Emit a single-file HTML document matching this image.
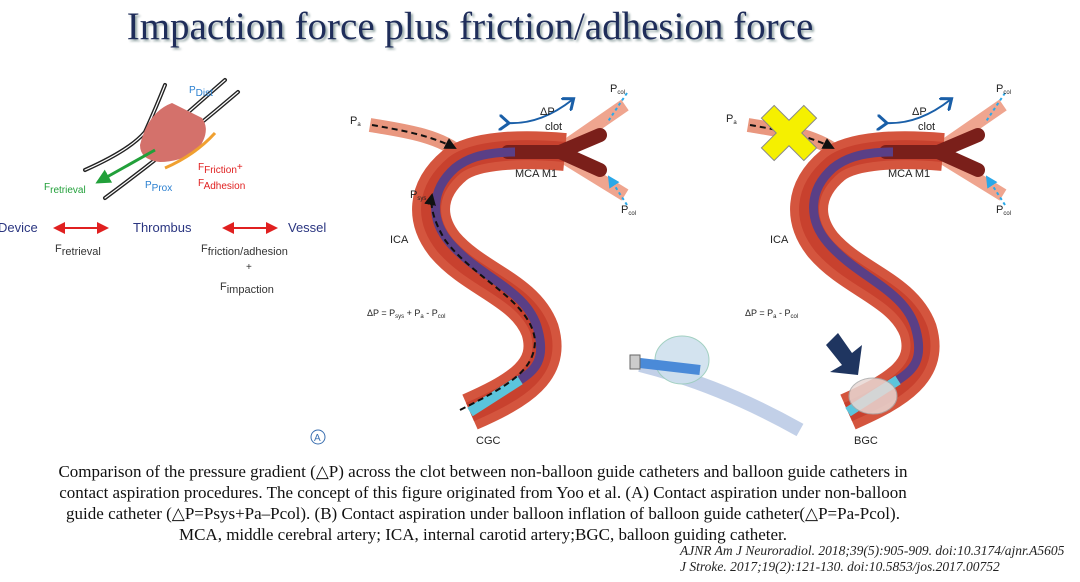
<!DOCTYPE html>
<html><head><meta charset="utf-8"><style>
body{margin:0;width:1080px;height:582px;background:#fff;overflow:hidden;position:relative;font-family:"Liberation Sans",sans-serif}
h1{position:absolute;margin:0;left:0;width:940px;text-align:center;top:4px;font:39px "Liberation Serif",serif;color:#1f2d5a;text-shadow:2px 2px 2px #9aa}
.cap{position:absolute;left:0;width:966px;text-align:center;font:17px "Liberation Serif",serif;color:#111;line-height:21px;top:461px}
.cit{position:absolute;left:680px;font:italic 13.5px "Liberation Serif",serif;color:#222;line-height:16px;top:543px}
</style></head><body>
<h1>Impaction force plus friction/adhesion force</h1>
<svg width="1080" height="582" style="position:absolute;left:0;top:0">
<defs>
<marker id="ar" markerWidth="6" markerHeight="6" refX="5" refY="3" orient="auto"><path d="M0,0L6,3L0,6z" fill="#e02020"/></marker>
<marker id="al" markerWidth="6" markerHeight="6" refX="1" refY="3" orient="auto"><path d="M6,0L0,3L6,6z" fill="#e02020"/></marker>
<marker id="bk" markerWidth="6" markerHeight="6" refX="5" refY="3" orient="auto"><path d="M0,0L6,3L0,6z" fill="#111"/></marker>
<marker id="gr" markerWidth="5" markerHeight="5" refX="4" refY="2.5" orient="auto"><path d="M0,0L5,2.5L0,5z" fill="#22a03a"/></marker>
<marker id="cy" markerWidth="6" markerHeight="6" refX="5" refY="3" orient="auto"><path d="M0,0L6,3L0,6z" fill="#2aa8e8"/></marker>
<marker id="bl" markerWidth="8" markerHeight="8" refX="4" refY="4" orient="auto"><path d="M0,0L5,4L0,8" fill="none" stroke="#1a5fa8" stroke-width="1.5"/></marker>
<g id="ves">
<path d="M370,125 C400,130 440,135 462,155" stroke="#e9977f" stroke-width="14" fill="none"/>
<path d="M560,150 L625,105 M560,155 L625,195" stroke="#efa58f" stroke-width="13" fill="none"/>
<path d="M565,152 C520,148 475,150 455,165 C425,190 425,220 445,245 C475,280 525,290 540,330 C552,370 520,390 470,412" stroke="#d4553e" stroke-width="38" fill="none"/>
<path d="M565,152 C520,148 475,150 455,165 C425,190 425,220 445,245 C475,280 525,290 540,330 C552,370 520,390 470,412" stroke="#c8412e" stroke-width="20" fill="none"/>
<path d="M508,152 L560,152 L600,135 M560,152 L600,170" stroke="#7a1f1a" stroke-width="14" fill="none" stroke-linecap="round"/>
<path d="M515,152 C480,152 465,160 455,168 C430,190 430,220 450,243 C480,278 528,290 538,330 C546,360 535,370 520,380" stroke="#5a3f86" stroke-width="9" fill="none"/>
</g>
</defs>
<g fill="none" stroke-linecap="round">
<path d="M85,170 Q130,150 145,132 Q155,110 165,85 M185,115 L225,80 M105,198 Q170,150 238,92" stroke="#222" stroke-width="4"/>
<path d="M85,170 Q130,150 145,132 Q155,110 165,85 M185,115 L225,80 M105,198 Q170,150 238,92" stroke="#fff" stroke-width="1.2"/>
</g>
<path d="M140,145 Q148,112 172,103 Q186,110 202,118 Q212,132 196,152 Q178,162 160,162 Q140,160 140,145z" fill="#d4716b"/>
<path d="M155,150 L98,182" stroke="#22a03a" stroke-width="3" marker-end="url(#gr)"/>
<path d="M165,168 Q195,155 215,133" stroke="#f0a030" stroke-width="3" fill="none"/>
<text x="189" y="93" font-size="10" fill="#2a7fd0">P<tspan dy="3">Dist</tspan></text>
<text x="145" y="188" font-size="10" fill="#2a7fd0">P<tspan dy="3">Prox</tspan></text>
<text x="44" y="190" font-size="10" fill="#22a03a">F<tspan dy="3">retrieval</tspan></text>
<text x="198" y="170" font-size="10" fill="#e02020">F<tspan dy="3">Friction</tspan><tspan dy="-3">+</tspan></text>
<text x="198" y="186" font-size="10" fill="#e02020">F<tspan dy="3">Adhesion</tspan></text>
<text x="-2" y="232" font-size="13" fill="#2a3580">Device</text>
<text x="133" y="232" font-size="13" fill="#2a3580">Thrombus</text>
<text x="288" y="232" font-size="13" fill="#2a3580">Vessel</text>
<line x1="55" y1="228" x2="107" y2="228" stroke="#e02020" stroke-width="2" marker-end="url(#ar)" marker-start="url(#al)"/>
<line x1="224" y1="228" x2="276" y2="228" stroke="#e02020" stroke-width="2" marker-end="url(#ar)" marker-start="url(#al)"/>
<text x="55" y="252" font-size="11" fill="#333">F<tspan dy="3">retrieval</tspan></text>
<text x="201" y="252" font-size="11" fill="#333">F<tspan dy="3">friction/adhesion</tspan></text>
<text x="246" y="270" font-size="10" fill="#333">+</text>
<text x="220" y="290" font-size="11" fill="#333">F<tspan dy="3">impaction</tspan></text>
<use href="#ves"/>
<path d="M520,380 L470,412" stroke="#5bc4dc" stroke-width="10"/>
<path d="M372,125 C400,130 430,135 455,148" stroke="#111" stroke-width="2" stroke-dasharray="6,4" fill="none" marker-end="url(#bk)"/>
<path d="M460,410 C510,385 535,370 535,340 C530,300 475,280 445,240 C433,220 430,205 432,195" stroke="#111" stroke-width="2" stroke-dasharray="6,4" fill="none" marker-end="url(#bk)"/>
<path d="M507,123 Q540,125 572,100" stroke="#1a5fa8" stroke-width="2" fill="none" marker-end="url(#bl)" marker-start="url(#bl)"/>
<path d="M627,93 L607,123 M627,205 L609,177" stroke="#2aa8e8" stroke-width="2" stroke-dasharray="3,3" marker-end="url(#cy)"/>
<text x="350" y="124" font-size="11" fill="#222">P<tspan font-size="6" dy="2">a</tspan></text>
<text x="540" y="115" font-size="11" fill="#222">ΔP</text>
<text x="545" y="130" font-size="11" fill="#222">clot</text>
<text x="610" y="92" font-size="11" fill="#222">P<tspan font-size="6" dy="2">col</tspan></text>
<text x="621" y="213" font-size="11" fill="#222">P<tspan font-size="6" dy="2">col</tspan></text>
<text x="515" y="177" font-size="11" fill="#222">MCA M1</text>
<text x="410" y="198" font-size="11" fill="#222">P<tspan font-size="6" dy="2">sys</tspan></text>
<text x="390" y="243" font-size="11" fill="#222">ICA</text>
<text x="367" y="316" font-size="9" fill="#222">ΔP = P<tspan font-size="6" dy="2">sys</tspan><tspan dy="-2"> + P</tspan><tspan font-size="6" dy="2">a</tspan><tspan dy="-2"> - P</tspan><tspan font-size="6" dy="2">col</tspan></text>
<text x="476" y="444" font-size="11" fill="#222">CGC</text>
<circle cx="318" cy="437" r="7" fill="none" stroke="#3a6fb0"/><text x="314" y="441" font-size="10" fill="#3a6fb0">A</text>
<g transform="translate(378,0)"><use href="#ves"/>
<path d="M520,380 L470,412" stroke="#5bc4dc" stroke-width="10"/>
<ellipse cx="495" cy="396" rx="24" ry="18" fill="#e8d8d4" opacity=".85" stroke="#aaa"/>
<path d="M372,125 C400,130 430,135 455,148" stroke="#111" stroke-width="2" stroke-dasharray="6,4" fill="none" marker-end="url(#bk)"/>
<path d="M507,123 Q540,125 572,100" stroke="#1a5fa8" stroke-width="2" fill="none" marker-end="url(#bl)" marker-start="url(#bl)"/>
<path d="M627,93 L607,123 M627,205 L609,177" stroke="#2aa8e8" stroke-width="2" stroke-dasharray="3,3" marker-end="url(#cy)"/>
<text x="348" y="122" font-size="11" fill="#222">P<tspan font-size="6" dy="2">a</tspan></text>
<text x="534" y="115" font-size="11" fill="#222">ΔP</text>
<text x="540" y="130" font-size="11" fill="#222">clot</text>
<text x="618" y="92" font-size="11" fill="#222">P<tspan font-size="6" dy="2">col</tspan></text>
<text x="618" y="213" font-size="11" fill="#222">P<tspan font-size="6" dy="2">col</tspan></text>
<text x="510" y="177" font-size="11" fill="#222">MCA M1</text>
<text x="392" y="243" font-size="11" fill="#222">ICA</text>
<text x="367" y="316" font-size="9" fill="#222">ΔP = P<tspan font-size="6" dy="2">a</tspan><tspan dy="-2"> - P</tspan><tspan font-size="6" dy="2">col</tspan></text>
<text x="476" y="444" font-size="11" fill="#222">BGC</text>
</g>
<g transform="translate(789,133) rotate(45)" fill="#f5f000" stroke="#888" stroke-width="1">
<path d="M-9,-30 H9 V-9 H30 V9 H9 V30 H-9 V9 H-30 V-9 H-9z"/>
</g>
<path d="M826,345 L838,333 L852,353 L862,345 L858,375 L830,372 L842,365z" fill="#1f3560"/>
<path d="M640,365 Q720,385 800,430" stroke="#9ab0d8" stroke-width="14" fill="none" opacity=".6"/>
<ellipse cx="682" cy="360" rx="27" ry="24" fill="#cfe0ee" stroke="#9cb" opacity=".9"/>
<path d="M640,363 L700,370" stroke="#4a8ad8" stroke-width="10"/>
<rect x="630" y="355" width="10" height="14" fill="#ccc" stroke="#666"/>
</svg>
<div class="cap">Comparison of the pressure gradient (△P) across the clot between non-balloon guide catheters and balloon guide catheters in<br>contact aspiration procedures. The concept of this figure originated from Yoo et al. (A) Contact aspiration under non-balloon<br>guide catheter (△P=Psys+Pa–Pcol). (B) Contact aspiration under balloon inflation of balloon guide catheter(△P=Pa-Pcol).<br>MCA, middle cerebral artery; ICA, internal carotid artery;BGC, balloon guiding catheter.</div>
<div class="cit">AJNR Am J Neuroradiol. 2018;39(5):905-909. doi:10.3174/ajnr.A5605<br>J Stroke. 2017;19(2):121-130. doi:10.5853/jos.2017.00752</div>
</body></html>
